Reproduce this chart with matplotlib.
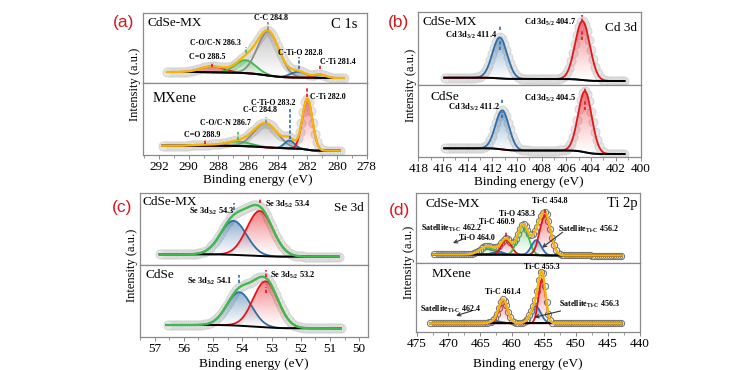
import numpy as np
import matplotlib
matplotlib.use("Agg")
import matplotlib.pyplot as plt
from matplotlib.patches import PathPatch
from matplotlib.colors import to_rgb
from matplotlib.ticker import MultipleLocator

plt.rcParams['font.family'] = ['Liberation Serif', 'DejaVu Serif']
plt.rcParams['mathtext.fontset'] = 'custom'
plt.rcParams['mathtext.rm'] = 'Liberation Serif:bold'
plt.rcParams['mathtext.default'] = 'regular'

RED = '#e8141b'
BLUE = '#2f6ea8'
GREEN = '#3dbb4c'
GRAY = '#8c8c8c'
YELLOW = '#f5b50a'

# ---------------- data (peak centre eV, height a.u., FWHM eV) ----------------
# (a) C 1s, CdSe-MX
A1_CENTERS = [288.5, 286.3, 284.8, 282.8, 281.4]
A1_HEIGHTS = [6, 13, 44, 6, 3.5]
A1_FWHM = [1.8, 1.6, 1.7, 1.2, 0.9]
A1_BG = [11, 5]
A1_RANGE = [291.5, 279.8]
A1_LABELS = ['C=O 288.5', 'C-O/C-N 286.3', 'C-C 284.8', 'C-Ti-O 282.8', 'C-Ti 281.4']
# (a) C 1s, MXene
A2_CENTERS = [288.9, 286.7, 284.8, 283.2, 282.0]
A2_HEIGHTS = [1.0, 4.5, 24, 8, 51]
A2_FWHM = [1.5, 2.0, 1.9, 0.8, 0.8]
A2_BG = [9.3, 4.3]
A2_RANGE = [291.8, 279.8]
A2_LABELS = ['C=O 288.9', 'C-O/C-N 286.7', 'C-C 284.8', 'C-Ti-O 283.2', 'C-Ti 282.0']
# (b) Cd 3d, CdSe-MX
B1_CENTERS = [411.4, 404.7]
B1_HEIGHTS = [41, 59]
B1_FWHM = [1.4, 1.4]
B1_BG = [7.3, 4.0]
B1_RANGE = [415.9, 401.3]
B1_LABELS = [r'Cd 3d$_{3/2}$ 411.4', r'Cd 3d$_{5/2}$ 404.7']
# (b) Cd 3d, CdSe
B2_CENTERS = [411.2, 404.5]
B2_HEIGHTS = [39, 61]
B2_FWHM = [1.3, 1.3]
B2_BG = [8.7, 3.0]
B2_RANGE = [415.9, 401.3]
B2_LABELS = [r'Cd 3d$_{3/2}$ 411.2', r'Cd 3d$_{5/2}$ 404.5']
# (c) Se 3d, CdSe-MX
C1_CENTERS = [54.3, 53.4]
C1_HEIGHTS = [34, 45]
C1_FWHM = [1.05, 1.05]
C1_BG = [10.7, 8.3]
C1_RANGE = [56.83, 50.7]
C1_LABELS = [r'Se 3d$_{3/2}$ 54.3', r'Se 3d$_{5/2}$ 53.4']
# (c) Se 3d, CdSe
C2_CENTERS = [54.1, 53.2]
C2_HEIGHTS = [33.5, 46]
C2_FWHM = [1.0, 1.0]
C2_BG = [12, 8.7]
C2_RANGE = [56.6, 50.63]
C2_LABELS = [r'Se 3d$_{3/2}$ 54.1', r'Se 3d$_{5/2}$ 53.2']
# (d) Ti 2p, CdSe-MX
D1_CENTERS = [464.0, 462.2, 460.9, 458.3, 456.2, 454.8]
D1_HEIGHTS = [8, 3, 15, 30.5, 15, 40.5]
D1_FWHM = [2.5, 2.0, 1.8, 2.0, 1.8, 2.0]
D1_BG = [8, 7]
D1_RANGE = [472.4, 442.9]
D1_LABELS = ['Ti-O 464.0', r'Satellite$_{\text{Ti-C}}$ 462.2', 'Ti-C 460.9',
             'Ti-O 458.3', r'Satellite$_{\text{Ti-C}}$ 456.2', 'Ti-C 454.8']
# (d) Ti 2p, MXene
D2_CENTERS = [462.4, 461.4, 456.3, 455.3]
D2_HEIGHTS = [2, 23, 17, 44]
D2_FWHM = [2.0, 1.6, 1.9, 1.3]
D2_BG = [8.4, 8.4]
D2_RANGE = [472.9, 442.9]
D2_LABELS = [r'Satellite$_{\text{Ti-C}}$ 462.4', 'Ti-C 461.4',
             r'Satellite$_{\text{Ti-C}}$ 456.3', 'Ti-C 455.3']

# ---------------- styles / layout ----------------
A1_COLORS = [RED, GREEN, GRAY, BLUE, RED]
A2_COLORS = [RED, GREEN, GRAY, BLUE, RED]
B_COLORS = [BLUE, RED]
C_COLORS = [BLUE, RED]
D1_COLORS = [GREEN, BLUE, RED, GREEN, BLUE, RED]
D2_COLORS = [BLUE, RED, BLUE, RED]

W, H = 756, 370
fig = plt.figure(figsize=(W / 100, H / 100), dpi=100)


def add_ax(l, r, t, b):
    return fig.add_axes([l / W, 1 - b / H, (r - l) / W, (b - t) / H])


def gauss(x, c, h, w):
    return h * np.exp(-4 * np.log(2) * ((x - c) / w) ** 2)


def grad_fill(ax, x, y0, y1, color, z):
    poly = ax.fill_between(x, y0, y1, facecolor='none', edgecolor='none')
    path = poly.get_paths()[0]
    patch = PathPatch(path, transform=ax.transData, facecolor='none', edgecolor='none')
    ax.add_patch(patch)
    n = 100
    arr = np.zeros((n, 1, 4))
    arr[..., :3] = to_rgb(color)
    arr[..., 3] = np.linspace(0.0, 0.6, n)[:, None] ** 1.2
    im = ax.imshow(arr, aspect='auto', origin='lower', interpolation='bilinear',
                   extent=[x.min(), x.max(), y0.min(), y1.max()], zorder=z)
    im.set_clip_path(patch)


def draw(ax, rng, centers, heights, fwhm, colors, bg, env_color, dstyle, step):
    x = np.linspace(min(rng), max(rng), 900)
    comps = [gauss(x, c, h, w) for c, h, w in zip(centers, heights, fwhm)]
    total = np.sum(comps, axis=0)
    cum = np.cumsum(total)
    cum = cum / cum[-1]
    b = bg[1] + (bg[0] - bg[1]) * cum
    xd = np.arange(min(rng), max(rng) + 1e-9, step)
    yd = np.interp(xd, x, b + total)
    if dstyle == 'light':
        ax.plot(xd, yd, 'o', ms=6.5, mfc='#e6e6e6', mec='#d2d2d2', mew=0.6, zorder=1)
    else:
        ax.plot(xd, yd, 'o', ms=4.5, mfc='#eeeeee', mec='#707070', mew=0.7, zorder=1)
    for comp, col in zip(comps, colors):
        grad_fill(ax, x, b, b + comp, col, 2)
        ax.plot(x, b + comp, color=col, lw=1.3, zorder=3)
    ax.plot(x, b, color='black', lw=1.4, zorder=4)
    if env_color:
        ax.plot(x, b + total, color=env_color, lw=1.7, zorder=5)


def style(ax, xlim, ylim, top, major=None, minor=None):
    ax.set_xlim(*xlim)
    ax.set_ylim(*ylim)
    ax.set_yticks([])
    for s in ax.spines.values():
        s.set_color('#8a8a8a')
        s.set_linewidth(0.9)
    if top:
        ax.tick_params(axis='x', which='both', bottom=False, labelbottom=False)
    else:
        ax.set_xticks(major)
        ax.xaxis.set_minor_locator(MultipleLocator(minor))
        ax.tick_params(axis='x', which='major', direction='out', length=3, width=0.7,
                       color='#888888', labelsize=9.5, pad=1.5)
        ax.tick_params(axis='x', which='minor', direction='out', length=2, width=0.6,
                       color='#888888')


def lab(ax, x, y, s, size=5.8, ha='center'):
    ax.text(x, y, s, fontsize=size, fontweight='bold', ha=ha, va='center', zorder=6)


def mark(ax, x, y0, y1, color):
    ax.plot([x, x], [y0, y1], color=color, lw=1.2, ls=(0, (2, 1.2)), zorder=6)


def side(ax, x, y, s, size, ha):
    ax.text(x, y, s, fontsize=size, ha=ha, va='center', zorder=6)


# ======================= (a) =======================
axa1 = add_ax(142.7, 366.7, 13, 83)
axa2 = add_ax(142.7, 366.7, 83, 155)
draw(axa1, A1_RANGE, A1_CENTERS, A1_HEIGHTS, A1_FWHM, A1_COLORS, A1_BG, YELLOW, 'light', 0.13)
draw(axa2, A2_RANGE, A2_CENTERS, A2_HEIGHTS, A2_FWHM, A2_COLORS, A2_BG, YELLOW, 'light', 0.13)
style(axa1, (293.1, 278.3), (0, 70), True)
style(axa2, (293.1, 278.3), (0, 72), False, np.arange(292, 277, -2), 1)
for s, (x, y) in zip(A1_LABELS, [(288.86, 25.7), (288.3, 39.7), (284.6, 64.7), (282.7, 29.7), (280.2, 21.3)]):
    lab(axa1, x, y, s)
for x, y0, y1, c in [(288.5, 16, 21, RED), (286.3, 30, 36, GREEN), (284.8, 53, 61, GRAY),
                     (282.8, 14, 26, BLUE), (281.4, 14, 19, RED)]:
    mark(axa1, x, y0, y1, c)
for s, (x, y) in zip(A2_LABELS, [(289.1, 20), (287.5, 31.7), (285.2, 45), (284.3, 52.3), (280.6, 58.3)]):
    lab(axa2, x, y, s)
for x, y0, y1, c in [(288.9, 11, 16, RED), (286.7, 15, 23, GREEN), (284.8, 32, 38, GRAY),
                     (283.2, 16, 47, BLUE), (282.0, 58, 67, RED)]:
    mark(axa2, x, y0, y1, c)
side(axa1, 292.8, 60, 'CdSe-MX', 9.5, 'left')
side(axa1, 278.9, 59, 'C 1s', 10.5, 'right')
side(axa2, 292.4, 56.7, 'MXene', 10.5, 'left')

# ======================= (b) =======================
axb1 = add_ax(417.7, 640.5, 12.3, 85)
axb2 = add_ax(417.7, 640.5, 85, 157)
draw(axb1, B1_RANGE, B1_CENTERS, B1_HEIGHTS, B1_FWHM, B_COLORS, B1_BG, None, 'light', 0.16)
draw(axb2, B2_RANGE, B2_CENTERS, B2_HEIGHTS, B2_FWHM, B_COLORS, B2_BG, None, 'light', 0.16)
style(axb1, (418.05, 400), (0, 72.7), True)
style(axb2, (418.05, 400), (0, 72), False, np.arange(418, 399, -2), 1)
for s, (x, y) in zip(B1_LABELS, [(413.7, 50), (407.3, 62.3)]):
    lab(axb1, x, y, s, 6.0)
for x, y0, y1, c in [(411.4, 55, 60, BLUE), (411.4, 35, 45, BLUE), (404.7, 63, 70, RED), (404.7, 45, 55, RED)]:
    mark(axb1, x, y0, y1, c)
for s, (x, y) in zip(B2_LABELS, [(413.5, 49.5), (407.3, 58.7)]):
    lab(axb2, x, y, s, 6.0)
for x, y0, y1, c in [(411.2, 54, 59, BLUE), (411.2, 39, 45, BLUE), (404.5, 65, 70, RED), (404.5, 47, 57, RED)]:
    mark(axb2, x, y0, y1, c)
side(axb1, 417.7, 63.3, 'CdSe-MX', 9.5, 'left')
side(axb1, 400.3, 57, 'Cd 3d', 9.5, 'right')
side(axb2, 417.0, 60.5, 'CdSe', 9.5, 'left')

# ======================= (c) =======================
axc1 = add_ax(140, 368, 193, 265)
axc2 = add_ax(140, 368, 265, 337)
draw(axc1, C1_RANGE, C1_CENTERS, C1_HEIGHTS, C1_FWHM, C_COLORS, C1_BG, GREEN, 'light', 0.065)
draw(axc2, C2_RANGE, C2_CENTERS, C2_HEIGHTS, C2_FWHM, C_COLORS, C2_BG, GREEN, 'light', 0.065)
style(axc1, (57.5, 49.7), (0, 72), True)
style(axc2, (57.5, 49.7), (0, 72), False, np.arange(57, 49, -1), 0.5)
for s, (x, y) in zip(C1_LABELS, [(55.05, 54.0), (52.45, 60.7)]):
    lab(axc1, x, y, s, 6.0)
for x, y0, y1, c in [(54.3, 55, 62, BLUE), (53.4, 62, 67, RED)]:
    mark(axc1, x, y0, y1, c)
for s, (x, y) in zip(C2_LABELS, [(55.12, 55.3), (52.28, 62)]):
    lab(axc2, x, y, s, 6.0)
for x, y0, y1, c in [(54.1, 54, 62, BLUE), (53.2, 60, 67, RED), (53.2, 44, 50, RED)]:
    mark(axc2, x, y0, y1, c)
side(axc1, 57.4, 63.0, 'CdSe-MX', 9.5, 'left')
side(axc1, 49.83, 56.7, 'Se 3d', 9.5, 'right')
side(axc2, 57.3, 62, 'CdSe', 9.5, 'left')

# ======================= (d) =======================
axd1 = add_ax(416, 639.5, 193.3, 262.5)
axd2 = add_ax(416, 639.5, 262.5, 331.7)
draw(axd1, D1_RANGE, D1_CENTERS, D1_HEIGHTS, D1_FWHM, D1_COLORS, D1_BG, YELLOW, 'dark', 0.3)
draw(axd2, D2_RANGE, D2_CENTERS, D2_HEIGHTS, D2_FWHM, D2_COLORS, D2_BG, YELLOW, 'dark', 0.3)
style(axd1, (475.1, 440), (0, 69.2), True)
style(axd2, (475.1, 440), (0, 69.2), False, np.arange(475, 439, -5), 2.5)
for s, (x, y) in zip(D1_LABELS, [(465.6, 24.3), (469.5, 34.0), (462.4, 40.8), (459.3, 48.8), (448.0, 33.5), (454.06, 61.5)]):
    lab(axd1, x, y, s, 5.8)
for x, y0, y1, c in [(460.9, 27, 32, RED), (454.8, 50, 55, RED)]:
    mark(axd1, x, y0, y1, c)
for s, (x, y) in zip(D2_LABELS, [(469.7, 22.7), (461.5, 39.4), (447.8, 27.4), (455.4, 65)]):
    lab(axd2, x, y, s, 5.8)
arrow = dict(arrowstyle='->', color='#333333', lw=0.8, shrinkA=0, shrinkB=0, mutation_scale=6)
axd1.annotate('', xy=(469.3, 19.5), xytext=(467.5, 23.8), arrowprops=arrow, zorder=6)
axd1.annotate('', xy=(455.3, 14.8), xytext=(452.1, 30.2), arrowprops=arrow, zorder=6)
axd2.annotate('', xy=(468.8, 16), xytext=(466.4, 20.7), arrowprops=arrow, zorder=6)
axd2.annotate('', xy=(456.5, 14.4), xytext=(452.4, 20.7), arrowprops=arrow, zorder=6)
side(axd1, 473.55, 58.2, 'CdSe-MX', 9.5, 'left')
side(axd1, 440.3, 59.2, 'Ti 2p', 10.5, 'right')
side(axd2, 472.7, 57.4, 'MXene', 9.5, 'left')

# ---------------- figure-level labels ----------------
def ftext(x, y, s, **kw):
    fig.text(x / W, 1 - y / H, s, **kw)


for x, y in [(135, 84), (411, 85), (132, 265), (409, 262)]:
    ftext(x, y, 'Intensity (a.u.)', rotation=90, ha='center', va='center', fontsize=9)
for x, y in [(258, 180), (529, 182), (254, 363.5), (528, 363.5)]:
    ftext(x, y, 'Binding energy (eV)', ha='center', va='center', fontsize=9.5)
for x, y, s in [(124, 23, '(a)'), (398, 23, '(b)'), (122.5, 207.5, '(c)'), (399, 211, '(d)')]:
    ftext(x, y, s, ha='center', va='center', fontsize=12.5, color='#d7191c',
          family=['Liberation Sans', 'DejaVu Sans'])

fig.savefig('out.png', dpi=100)
